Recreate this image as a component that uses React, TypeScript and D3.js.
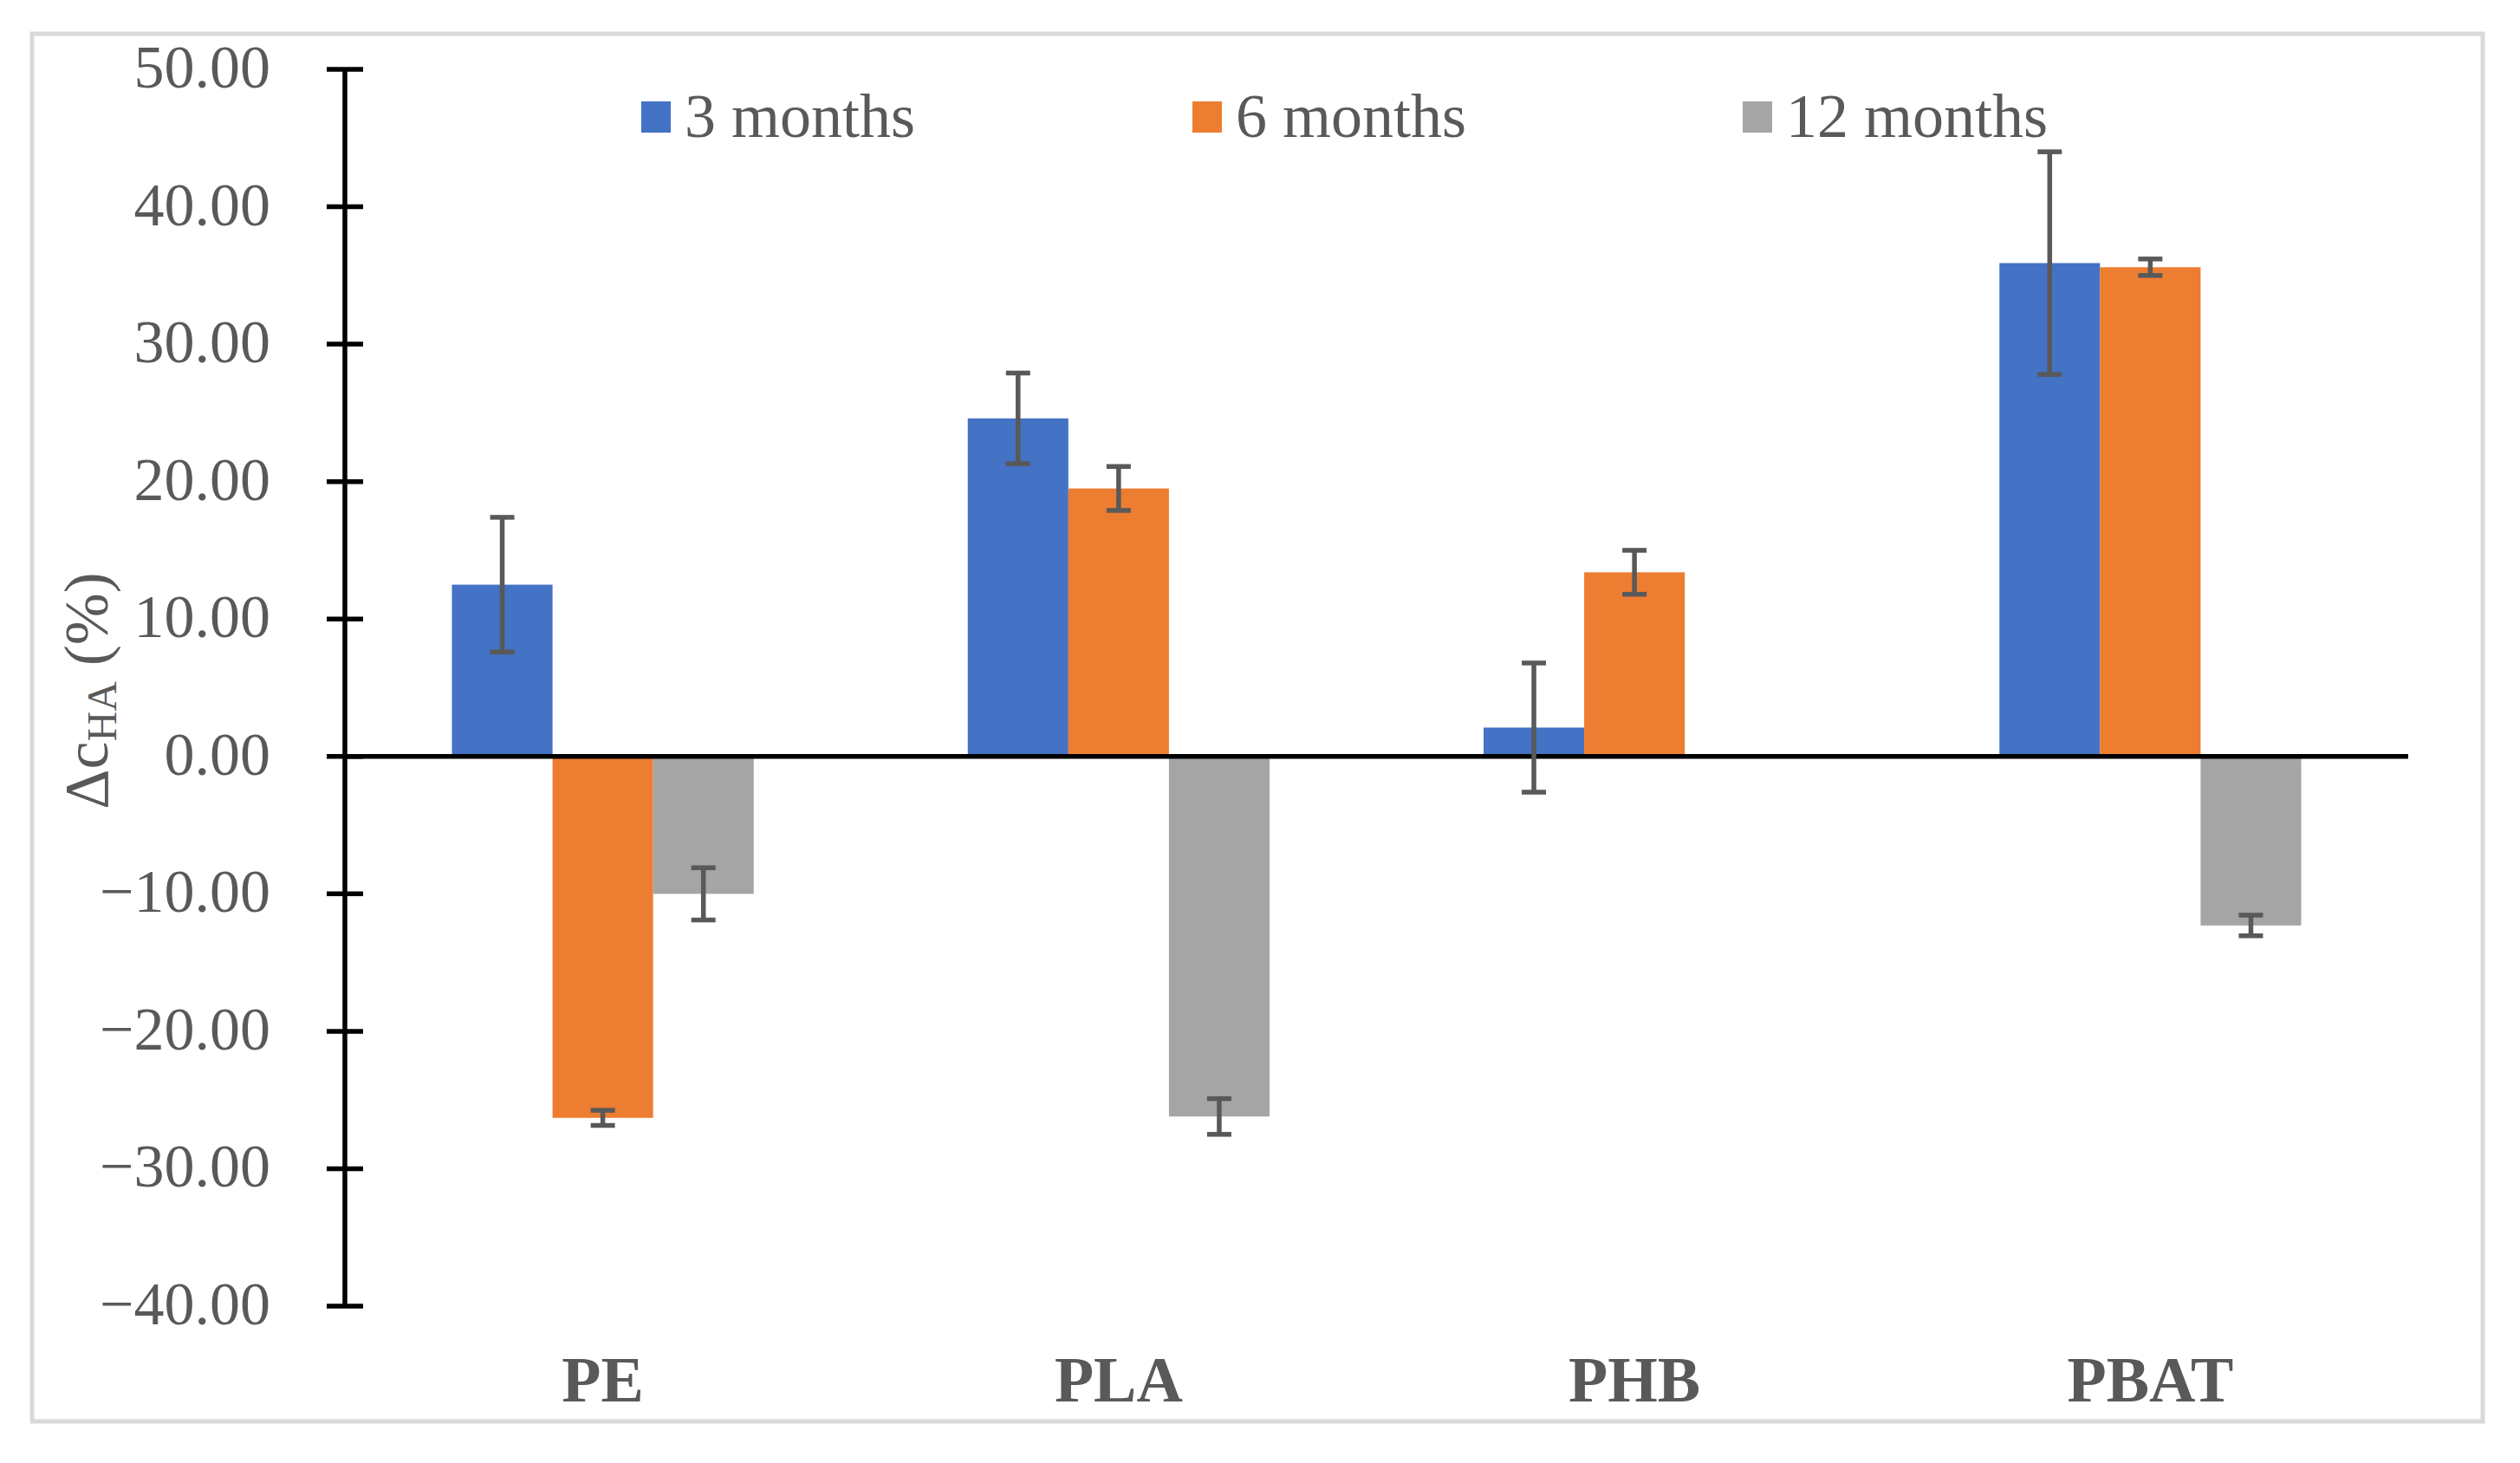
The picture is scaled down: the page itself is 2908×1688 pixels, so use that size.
import React from "react";
import * as d3 from "d3";

const categories = ["PE", "PLA", "PHB", "PBAT"];
const seriesNames = ["3 months", "6 months", "12 months"];
const months3 = [12.5, 24.6, 2.1, 35.9];
const months6 = [-26.3, 19.5, 13.4, 35.6];
const months12: (number | null)[] = [-10.0, -26.2, null, -12.3];
const err3 = [4.9, 3.3, 4.7, 8.1];
const err6 = [0.55, 1.6, 1.6, 0.6];
const err12: (number | null)[] = [1.9, 1.3, null, 0.75];
const yTicks = [50, 40, 30, 20, 10, 0, -10, -20, -30, -40];
const colors = ["#4472C4", "#ED7D31", "#A5A5A5"];

const W = 2908;
const H = 1688;
const FONT = "'Liberation Serif', 'Times New Roman', serif";
const TEXT = "#595959";

export default function App() {
  const values = [months3, months6, months12];
  const errs = [err3, err6, err12];

  const y = d3.scaleLinear().domain([-40, 50]).range([1507, 80]);
  const x0 = d3
    .scaleBand<string>()
    .domain(categories)
    .range([398, 2779])
    .paddingInner(0.415)
    .paddingOuter(0.2075);
  const x1 = d3
    .scaleBand<string>()
    .domain(seriesNames)
    .range([0, x0.bandwidth()]);
  const fmt = d3.format(".2f");
  const axisX = 398;
  const zeroY = y(0);

  const legendX = [740, 1376, 2011];

  return (
    <svg
      width={W}
      height={H}
      style={{ position: "absolute", left: 0, top: 0, background: "#fff" }}
      fontFamily={FONT}
    >
      <rect x={0} y={0} width={W} height={H} fill="#fff" />
      <rect x={37} y={39} width={2828} height={1601} fill="none" stroke="#d9d9d9" strokeWidth={5} />

      {/* bars */}
      {categories.map((c, i) => (
        <g key={c} transform={`translate(${x0(c)},0)`}>
          {seriesNames.map((s, k) => {
            const v = values[k][i];
            if (v === null || v === undefined) return null;
            const bx = x1(s) as number;
            const top = Math.min(y(v), zeroY);
            const h = Math.abs(y(v) - zeroY);
            return <rect key={s} x={bx} y={top} width={x1.bandwidth()} height={h} fill={colors[k]} />;
          })}
        </g>
      ))}

      {/* x axis line */}
      <line x1={axisX} x2={x0.range()[1]} y1={zeroY} y2={zeroY} stroke="#000" strokeWidth={5.5} />

      {/* error bars */}
      {categories.map((c, i) => (
        <g key={c + "e"} transform={`translate(${x0(c)},0)`}>
          {seriesNames.map((s, k) => {
            const v = values[k][i];
            const e = errs[k][i];
            if (v === null || e === null || v === undefined || e === undefined) return null;
            const cx = (x1(s) as number) + x1.bandwidth() / 2;
            const yt = y(v + e);
            const yb = y(v - e);
            const cap = 14;
            return (
              <g key={s} stroke={TEXT} strokeWidth={5.5}>
                <line x1={cx} x2={cx} y1={yt} y2={yb} />
                <line x1={cx - cap} x2={cx + cap} y1={yt} y2={yt} />
                <line x1={cx - cap} x2={cx + cap} y1={yb} y2={yb} />
              </g>
            );
          })}
        </g>
      ))}

      {/* y axis */}
      <line x1={axisX} x2={axisX} y1={y(50)} y2={y(-40)} stroke="#000" strokeWidth={5.5} />
      {yTicks.map((t) => (
        <g key={t}>
          <line x1={axisX - 21} x2={axisX + 21} y1={y(t)} y2={y(t)} stroke="#000" strokeWidth={5.5} />
          <text x={312} y={y(t) + 21} textAnchor="end" fontSize={70} fill={TEXT}>
            {fmt(t)}
          </text>
        </g>
      ))}

      {/* category labels */}
      {categories.map((c) => (
        <text
          key={c + "l"}
          x={(x0(c) as number) + x0.bandwidth() / 2}
          y={1617}
          textAnchor="middle"
          fontSize={74}
          fontWeight="bold"
          fill={TEXT}
        >
          {c}
        </text>
      ))}

      {/* y axis title */}
      <text
        transform={`translate(124,797) rotate(-90)`}
        textAnchor="middle"
        fontSize={72}
        fill={TEXT}
      >
        Δc
        <tspan fontSize={48} dy={10}>HA</tspan>
        <tspan dy={-10}> (%)</tspan>
      </text>

      {/* legend */}
      {seriesNames.map((s, k) => (
        <g key={s + "leg"}>
          <rect x={legendX[k]} y={117} width={34} height={36} fill={colors[k]} />
          <text x={legendX[k] + 50} y={158} fontSize={72} fill={TEXT}>
            {s}
          </text>
        </g>
      ))}
    </svg>
  );
}
